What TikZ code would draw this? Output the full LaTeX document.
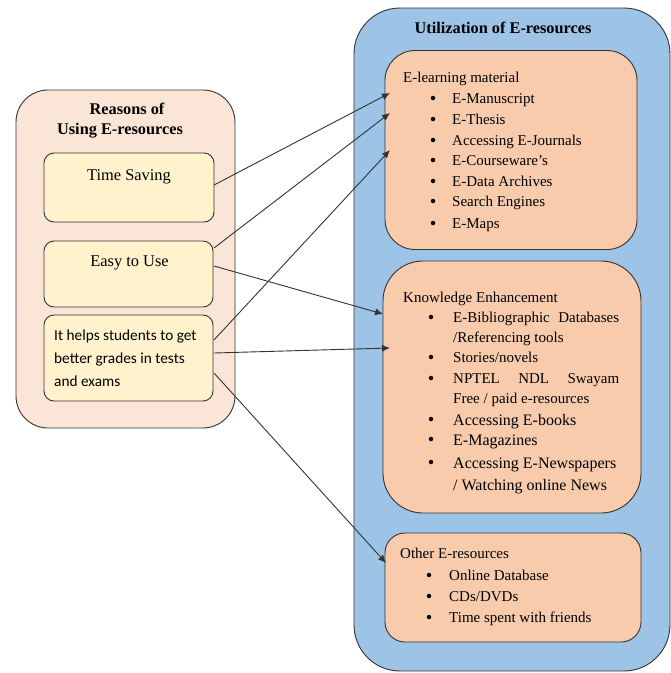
\documentclass[tikz,border=0pt]{standalone}
\usepackage{fontspec}
\setmainfont{Liberation Serif}
\newfontfamily\calib{Carlito}
\usetikzlibrary{arrows.meta}
\definecolor{pinkbg}{HTML}{FBE5D6}
\definecolor{yellowbg}{HTML}{FFF2CC}
\definecolor{bluebg}{HTML}{9DC3E6}
\definecolor{orangebg}{HTML}{F8CBAD}
\definecolor{edge}{HTML}{333333}
\tikzset{
  panel/.style={draw=edge, line width=0.9pt, inner sep=0pt},
  txt/.style={inner sep=0pt, anchor=base west, font=\fontsize{15}{17}\selectfont},
  big/.style={font=\fontsize{16}{18}\selectfont},
  ctxt/.style={inner sep=0pt, anchor=base, font=\fontsize{16.4}{18}\selectfont},
  ttl/.style={inner sep=0pt, anchor=base, font=\fontsize{16.3}{18}\selectfont\bfseries},
  sans/.style={font=\calib\fontsize{15.3}{17}\selectfont},
  bul/.style={inner sep=0pt, anchor=center, circle, fill=black, minimum size=4.5pt},
  conn/.style={draw=edge, line width=0.9pt, -{Latex[length=8pt,width=7pt]}},
}
\begin{document}
\begin{tikzpicture}[x=1pt,y=-1pt]
\useasboundingbox (0,0) rectangle (671,673);
% left panel
\node[panel, fill=pinkbg, rounded corners=32pt, minimum width=219pt, minimum height=338pt] (L) at (125.5,259) {};
\node[ttl] (Lt1) at (127,114) {Reasons of};
\node[ttl] (Lt2) at (120,134) {Using E-resources};
\node[panel, fill=yellowbg, rounded corners=10pt, minimum width=170pt, minimum height=69pt] (ts) at (129,187.5) {};
\node[ctxt] (tst) at (129,180) {Time Saving};
\node[panel, fill=yellowbg, rounded corners=10pt, minimum width=169pt, minimum height=66pt] (eu) at (128.5,274) {};
\node[ctxt] (eut) at (129.5,266) {Easy to Use};
\node[panel, fill=yellowbg, rounded corners=10pt, minimum width=169pt, minimum height=86pt] (ih) at (128.5,358) {};
\node[txt, sans] (ih1) at (54,340) {It helps students to get};
\node[txt, sans] (ih2) at (54,363) {better grades in tests};
\node[txt, sans] (ih3) at (54,386) {and exams};
% right panel
\node[panel, fill=bluebg, rounded corners=46pt, minimum width=316pt, minimum height=663pt] (R) at (512,339.5) {};
\node[ttl] (Rt) at (503,33) {Utilization of E-resources};
\node[panel, fill=orangebg, rounded corners=30pt, minimum width=252pt, minimum height=199pt] (el) at (511,150) {};
\node[panel, fill=orangebg, rounded corners=40pt, minimum width=258pt, minimum height=252pt] (ke) at (512,387) {};
\node[panel, fill=orangebg, rounded corners=20pt, minimum width=256pt, minimum height=109pt] (ot) at (513,587.5) {};
% E-learning
\node[txt] (elh) at (403,82) {E-learning material};
\foreach \t/\y [count=\i] in {E-Manuscript/103,E-Thesis/124,Accessing E-Journals/145,E-Courseware’s/165,E-Data Archives/186,Search Engines/206,E-Maps/228}{
  \node[bul] (elb\i) at (433,\y-5) {};
  \node[txt] (eli\i) at (452,\y) {\t};
}
% Knowledge
\node[txt] (keh) at (403,302) {Knowledge Enhancement};
\node[bul] (keb1) at (431,317) {};
\node[txt, text width=166pt] (kei1) at (453,322) {E-Bibliographic\hfill Databases};
\node[txt] (kei1b) at (453,342) {/Referencing tools};
\node[bul] (keb2) at (431,357) {};
\node[txt] (kei2) at (453,362) {Stories/novels};
\node[bul] (keb3) at (431,378) {};
\node[txt, text width=166pt] (kei3) at (453,383) {NPTEL\hfill NDL\hfill Swayam};
\node[txt] (kei3b) at (453,403) {Free / paid e-resources};
\node[bul] (keb4) at (431,419) {};
\node[txt, big] (kei4) at (453,425) {Accessing E-books};
\node[bul] (keb5) at (431,439) {};
\node[txt, big] (kei5) at (453,445) {E-Magazines};
\node[bul] (keb6) at (431,462) {};
\node[txt, big] (kei6) at (453,468) {Accessing E-Newspapers};
\node[txt, big] (kei6b) at (453,490) {/ Watching online News};
% Other
\node[txt] (oth) at (400,558) {Other E-resources};
\foreach \t/\y [count=\i] in {Online Database/580,{CDs/DVDs}/601,Time spent with friends/622}{
  \node[bul] (otb\i) at (429,\y-5) {};
  \node[txt] (oti\i) at (449,\y) {\t};
}
% connectors
\coordinate (a1s) at (214,185);
\coordinate (a1e) at (390,93);
\coordinate (a2s) at (214,248);
\coordinate (a2e) at (390,113);
\coordinate (a3s) at (214,340);
\coordinate (a3e) at (390,150);
\coordinate (a4s) at (214,266);
\coordinate (a4e) at (383,314);
\coordinate (a5s) at (214,353);
\coordinate (a5e) at (390,348);
\coordinate (a6s) at (214,373);
\coordinate (a6e) at (386,563);
\draw[conn] (a1s) -- (a1e);
\draw[conn] (a2s) -- (a2e);
\draw[conn] (a3s) -- (a3e);
\draw[conn] (a4s) -- (a4e);
\draw[conn] (a5s) -- (a5e);
\draw[conn] (a6s) -- (a6e);
\end{tikzpicture}
\end{document}
